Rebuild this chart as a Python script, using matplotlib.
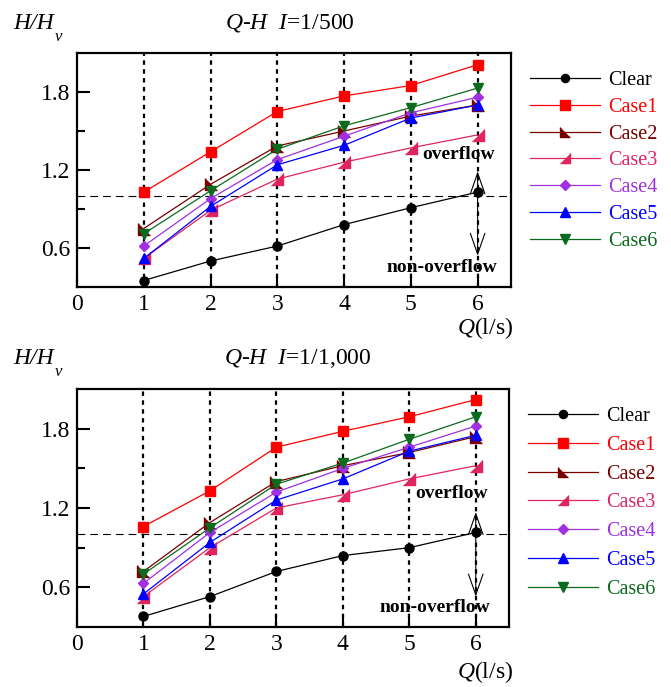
import matplotlib
matplotlib.use('Agg')
import matplotlib.pyplot as plt

plt.rcParams['font.family'] = 'Liberation Serif'
plt.rcParams['mathtext.fontset'] = 'custom'
plt.rcParams['mathtext.rm'] = 'Liberation Serif'
plt.rcParams['mathtext.it'] = 'Liberation Serif:italic'
plt.rcParams['mathtext.bf'] = 'Liberation Serif:bold'

Q = [1, 2, 3, 4, 5, 6]
names = ['Clear', 'Case1', 'Case2', 'Case3', 'Case4', 'Case5', 'Case6']
colors = ['black', '#ff0000', '#7a0000', '#e0245e', '#a030e0', '#0000ff', '#0a6a1e']

# I = 1/500
top_clear = [0.35, 0.50, 0.615, 0.78, 0.91, 1.03]
top_case1 = [1.03, 1.34, 1.65, 1.77, 1.85, 2.01]
top_case2 = [0.75, 1.09, 1.385, 1.50, 1.615, 1.70]
top_case3 = [0.52, 0.89, 1.13, 1.26, 1.37, 1.47]
top_case4 = [0.615, 0.98, 1.28, 1.46, 1.64, 1.76]
top_case5 = [0.52, 0.92, 1.24, 1.39, 1.60, 1.70]
top_case6 = [0.71, 1.04, 1.36, 1.54, 1.68, 1.83]

# I = 1/1,000
bot_clear = [0.38, 0.53, 0.72, 0.84, 0.90, 1.015]
bot_case1 = [1.06, 1.33, 1.66, 1.78, 1.89, 2.02]
bot_case2 = [0.72, 1.09, 1.40, 1.52, 1.62, 1.74]
bot_case3 = [0.53, 0.90, 1.20, 1.30, 1.42, 1.52]
bot_case4 = [0.63, 1.015, 1.32, 1.50, 1.66, 1.82]
bot_case5 = [0.55, 0.94, 1.26, 1.42, 1.63, 1.75]
bot_case6 = [0.70, 1.05, 1.38, 1.54, 1.72, 1.89]

markers = ['o', 's', [(-1, 1), (-1, -1), (1, -1)], [(1, 1), (1, -1), (-1, -1)], 'D', '^', 'v']
msizes = [6.5, 7.5, 8, 8, 5.5, 7.5, 7.5]

W, H = 671, 687
fig = plt.figure(figsize=(6.71, 6.87), dpi=100)


def panel(rect, series, title, title_x, title_y, leg_xy, over_xy, non_xy, tip_up, tip_dn, lab_y, labsp):
    ax = fig.add_axes(rect)
    for x in Q:
        ax.axvline(x, color='black', lw=1.6, ls=(0, (2, 2)), zorder=1)
    ax.axhline(1.0, color='black', lw=0.8, ls=(0, (7, 4.5)), zorder=1)
    for ys, name, c, m, ms in zip(series, names, colors, markers, msizes):
        ax.plot(Q, ys, color=c, lw=0.9, marker=m, ms=ms, mfc=c, mec=c, label=name, zorder=3)
    ax.set_xlim(0, 6.5)
    ax.set_ylim(0.3, 2.1)
    ax.set_xticks(range(0, 7))
    ax.set_yticks([0.6, 1.2, 1.8])
    ax.set_yticks([0.9, 1.5], minor=True)
    ax.tick_params(axis='both', which='both', direction='in', top=False, right=False,
                   labelsize=17, width=1.5, pad=5)
    ax.tick_params(axis='both', which='major', length=9)
    ax.tick_params(axis='y', which='minor', length=6)
    for s in ax.spines.values():
        s.set_linewidth(1.6)

    # overflow / non-overflow arrows at Q = 6
    y0 = series[0][-1]
    arrow = dict(arrowstyle='->,head_length=1.0,head_width=0.35', color='black', lw=0.8,
                 mutation_scale=15, shrinkA=0, shrinkB=0)
    ax.annotate('', xy=(6, tip_up), xytext=(6, y0), arrowprops=arrow)
    ax.annotate('', xy=(6, tip_dn), xytext=(6, y0), arrowprops=arrow)
    ax.text(over_xy[0], over_xy[1], 'overflow', fontsize=14, fontweight='bold', ha='center', va='center')
    ax.text(non_xy[0], non_xy[1], 'non-overflow', fontsize=14, fontweight='bold', ha='center', va='center')

    fig.text(13 / W, 1 - title_y / H, 'H/H', fontsize=17, style='italic', ha='left', va='baseline')
    fig.text(55 / W, 1 - (title_y + 12) / H, 'v', fontsize=12, style='italic', ha='left', va='baseline')
    fig.text(title_x / W, 1 - title_y / H, title, fontsize=17, ha='left', va='baseline')
    fig.text(485 / W, 1 - lab_y / H, r'$Q$(l/s)', fontsize=17, ha='center', va='baseline')

    ax.legend(loc='upper left', bbox_to_anchor=(leg_xy[0] / W, 1 - leg_xy[1] / H),
              bbox_transform=fig.transFigure, frameon=False, fontsize=14.5,
              handlelength=3.5, handletextpad=0.4, labelspacing=labsp,
              borderpad=0, borderaxespad=0, labelcolor='linecolor', markerscale=0.9)
    return ax


top = [top_clear, top_case1, top_case2, top_case3, top_case4, top_case5, top_case6]
bot = [bot_clear, bot_case1, bot_case2, bot_case3, bot_case4, bot_case5, bot_case6]

panel([77 / W, 1 - 287 / H, 434 / W, 234 / H], top, r'$Q$-$H$  $I$=1/500', 225, 29,
      (530, 71), (5.72, 1.32), (5.47, 0.45), 1.19, 0.54, 334, 0.38)
panel([77 / W, 1 - 627 / H, 432 / W, 238 / H], bot, r'$Q$-$H$  $I$=1/1,000', 224, 364,
      (528, 407), (5.64, 1.31), (5.38, 0.45), 1.17, 0.53, 678, 0.48)

fig.savefig('out.png', dpi=100)
